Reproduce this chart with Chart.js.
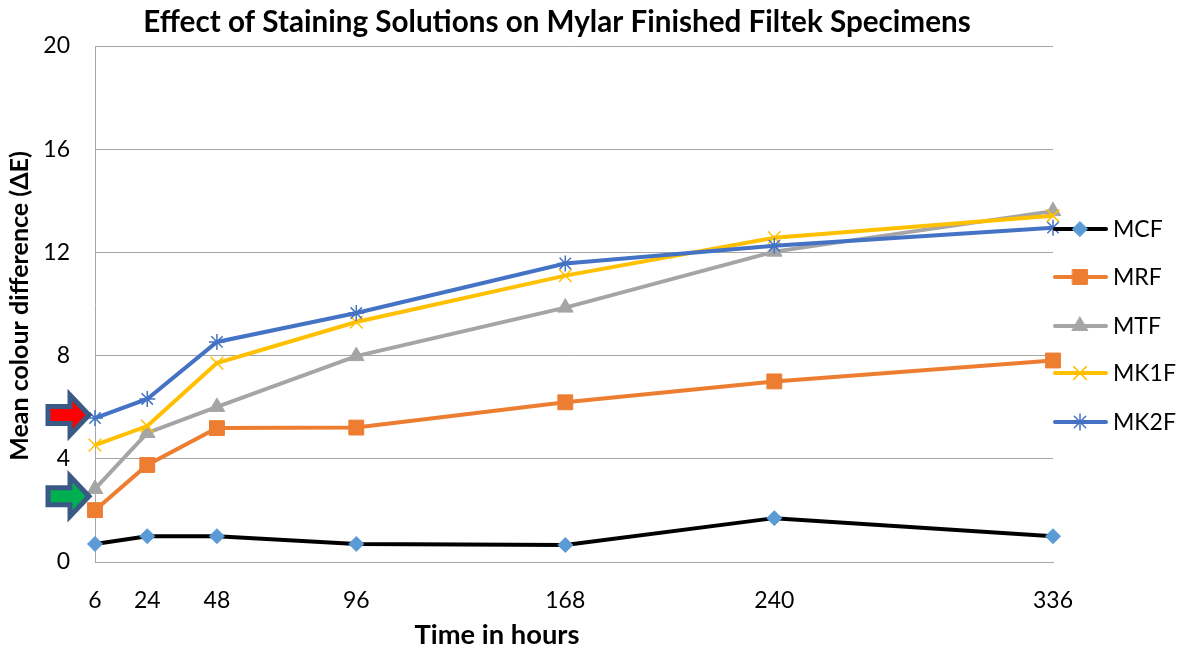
<!DOCTYPE html>
<html>
<head>
<meta charset="utf-8">
<script src="https://cdn.jsdelivr.net/npm/chart.js@4/dist/chart.umd.min.js"></script>
<style>
  html, body { margin: 0; padding: 0; background: #fff; }
  canvas { display: block; }
</style>
</head>
<body>
<canvas id="viz" width="1180" height="651"></canvas>
<script>
var hours = [6, 24, 48, 96, 168, 240, 336];
var mcf = [0.70, 1.00, 1.00, 0.70, 0.66, 1.70, 1.00];
var mrf = [2.01, 3.76, 5.19, 5.21, 6.19, 7.00, 7.81];
var mtf = [2.83, 5.00, 6.01, 7.98, 9.86, 12.03, 13.60];
var mk1f = [4.53, 5.27, 7.71, 9.30, 11.10, 12.57, 13.42];
var mk2f = [5.58, 6.32, 8.53, 9.65, 11.57, 12.26, 12.96];
var yTicks = [0, 4, 8, 12, 16, 20];
var names = ['MCF', 'MRF', 'MTF', 'MK1F', 'MK2F'];
var arrowLevels = [5.7, 2.55]; // red arrow, green arrow

var FONT = 'Lato, "Open Sans", sans-serif';

function pts(vals) {
  return hours.map(function (h, i) { return { x: h, y: vals[i] }; });
}

var datasets = [
  { label: names[0], data: pts(mcf), borderColor: '#000000', backgroundColor: '#5b9bd5',
    pointBorderColor: '#5b9bd5', pointStyle: 'rectRot', pointRadius: 7.5, pointBorderWidth: 1, order: 5 },
  { label: names[1], data: pts(mrf), borderColor: '#ed7d31', backgroundColor: '#ed7d31',
    pointBorderColor: '#ed7d31', pointStyle: 'rect', pointRadius: 10.5, pointBorderWidth: 1, order: 4 },
  { label: names[2], data: pts(mtf), borderColor: '#a5a5a5', backgroundColor: '#a5a5a5',
    pointBorderColor: '#a5a5a5', pointStyle: 'triangle', pointRadius: 9, pointBorderWidth: 1, order: 3 },
  { label: names[3], data: pts(mk1f), borderColor: '#ffc000', backgroundColor: '#ffc000',
    pointBorderColor: '#ffc000', pointStyle: 'crossRot', pointRadius: 9, pointBorderWidth: 1.5, order: 2 },
  { label: names[4], data: pts(mk2f), borderColor: '#4472c4', backgroundColor: '#4472c4',
    pointBorderColor: '#4472c4', pointStyle: 'star', pointRadius: 8, pointBorderWidth: 1.5, order: 1 }
];
datasets.forEach(function (d) {
  d.borderWidth = 4;
  d.tension = 0;
  d.clip = false;
  d.pointBackgroundColor = d.backgroundColor;
});

function fitFont(ctx, text, bold, target) {
  ctx.font = (bold ? 'bold ' : '') + '20px ' + FONT;
  var w = ctx.measureText(text).width;
  return 20 * target / w;
}

var extras = {
  id: 'extras',
  afterDraw: function (chart) {
    var ctx = chart.ctx;
    var xs = chart.scales.x, ys = chart.scales.y;
    ctx.save();
    ctx.fillStyle = '#000';
    ctx.textBaseline = 'middle';
    ctx.textAlign = 'center';

    // title
    var t = 'Effect of Staining Solutions on Mylar Finished Filtek Specimens';
    var fs = fitFont(ctx, t, true, 828);
    ctx.font = 'bold ' + fs + 'px ' + FONT;
    ctx.fillText(t, 557, 22);

    // x title
    var xt = 'Time in hours';
    fs = fitFont(ctx, xt, true, 165);
    ctx.font = 'bold ' + fs + 'px ' + FONT;
    ctx.fillText(xt, 497, 635);

    // y title
    var yt = 'Mean colour difference (\u0394E)';
    fs = fitFont(ctx, yt, true, 310);
    ctx.save();
    ctx.translate(20, 306);
    ctx.rotate(-Math.PI / 2);
    ctx.font = 'bold ' + fs + 'px ' + FONT;
    ctx.fillText(yt, 0, 0);
    ctx.restore();

    // legend
    var ly = [229, 277, 326, 373, 422];
    chart.data.datasets.forEach(function (d, i) {
      ctx.beginPath();
      ctx.strokeStyle = d.borderColor;
      ctx.lineWidth = d.borderWidth;
      ctx.lineCap = 'round';
      ctx.moveTo(1055, ly[i]);
      ctx.lineTo(1106, ly[i]);
      ctx.stroke();
      ctx.fillStyle = d.pointBackgroundColor;
      ctx.strokeStyle = d.pointBorderColor;
      ctx.lineWidth = d.pointBorderWidth;
      Chart.helpers.drawPoint(ctx, { pointStyle: d.pointStyle, radius: d.pointRadius, rotation: 0, borderWidth: d.pointBorderWidth }, 1080, ly[i]);
      ctx.fillStyle = '#000';
      ctx.textAlign = 'left';
      ctx.font = '23px ' + FONT;
      ctx.fillText(d.label, 1113, ly[i] + 1);
    });

    // block arrows
    var tipX = xs.getPixelForValue(hours[0]) - 3;
    var fills = ['#ff0000', '#00b050'];
    arrowLevels.forEach(function (v, i) {
      var cy = ys.getPixelForValue(v);
      var x0 = tipX - 44, xh = tipX - 22;
      ctx.beginPath();
      ctx.moveTo(x0, cy - 8.5);
      ctx.lineTo(xh, cy - 8.5);
      ctx.lineTo(xh, cy - 20);
      ctx.lineTo(tipX - 3, cy);
      ctx.lineTo(xh, cy + 20);
      ctx.lineTo(xh, cy + 8.5);
      ctx.lineTo(x0, cy + 8.5);
      ctx.closePath();
      ctx.fillStyle = fills[i];
      ctx.fill();
      ctx.strokeStyle = '#3a5a85';
      ctx.lineWidth = 5;
      ctx.lineJoin = 'miter';
      ctx.stroke();
    });
    ctx.restore();
  }
};

var chart = new Chart(document.getElementById('viz').getContext('2d'), {
  type: 'line',
  data: { datasets: datasets },
  options: {
    responsive: false,
    animation: false,
    devicePixelRatio: 1,
    layout: { padding: { top: 46, right: 127, left: 0, bottom: 0 } },
    plugins: { legend: { display: false }, title: { display: false }, tooltip: { enabled: false } },
    scales: {
      x: {
        type: 'linear',
        min: 6,
        max: 336,
        afterBuildTicks: function (s) { s.ticks = hours.map(function (h) { return { value: h }; }); },
        afterFit: function (s) { s.height = 89; },
        grid: { display: false },
        border: { display: true, color: '#a6a6a6', width: 1 },
        ticks: { autoSkip: false, maxRotation: 0, padding: 17, color: '#000', font: { family: FONT, size: 23 } }
      },
      y: {
        min: 0,
        max: 20,
        afterBuildTicks: function (s) { s.ticks = yTicks.map(function (v) { return { value: v }; }); },
        afterFit: function (s) { s.width = 95; },
        grid: { color: '#a6a6a6', lineWidth: 1, drawTicks: false },
        border: { display: true, color: '#a6a6a6', width: 1 },
        ticks: { padding: 25, color: '#000', font: { family: FONT, size: 23 } }
      }
    }
  },
  plugins: [extras]
});
</script>
</body>
</html>
